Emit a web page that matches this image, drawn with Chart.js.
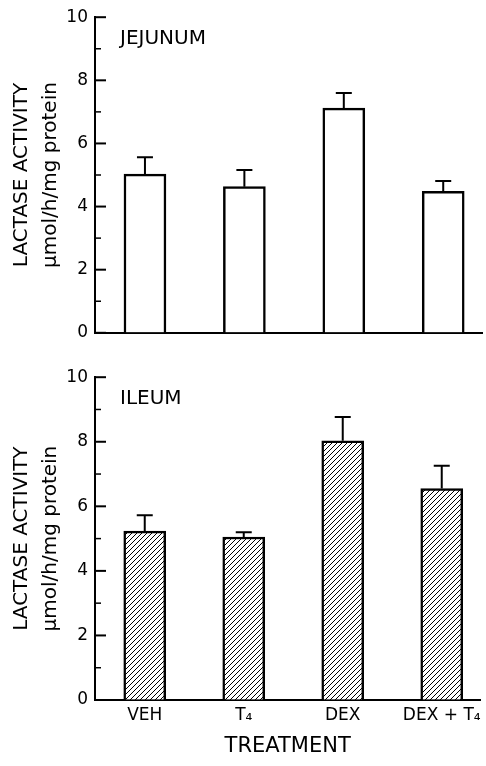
<!DOCTYPE html>
<html>
<head>
<meta charset="utf-8">
<script src="https://cdn.jsdelivr.net/npm/chart.js@4.4.1/dist/chart.umd.min.js"></script>
<style>
  body { margin: 0; background: #fff; }
  #wrap { position: relative; width: 486px; height: 766px; }
  canvas { position: absolute; left: 0; }
</style>
</head>
<body>
<div id="wrap">
  <canvas id="jejunum" width="486" height="350" style="top:0"></canvas>
  <canvas id="ileum" width="486" height="406" style="top:360px"></canvas>
</div>
<script>
// data
const treatments = ['VEH', 'T₄', 'DEX', 'DEX + T₄'];
const jejunumValues = [5.03, 4.63, 7.12, 4.48];
const jejunumErrors = [0.53, 0.53, 0.48, 0.33];
const ileumValues = [5.23, 5.05, 8.03, 6.55];
const ileumErrors = [0.49, 0.15, 0.74, 0.71];
const yTicks = [0, 2, 4, 6, 8, 10];

const FONT = 'DejaVu Sans, sans-serif';

// diagonal hatch for the ileum bars
function makeHatch() {
    const c = document.createElement('canvas');
    c.width = 5;
    c.height = 5;
    const g = c.getContext('2d');
    g.fillStyle = '#fff';
    g.fillRect(0, 0, 5, 5);
    g.strokeStyle = '#000';
    g.lineWidth = 1;
    g.beginPath();
    g.moveTo(0, 5); g.lineTo(5, 0);
    g.moveTo(-1, 1); g.lineTo(1, -1);
    g.moveTo(4, 6); g.lineTo(6, 4);
    g.stroke();
    return g.createPattern(c, 'repeat');
}

// upper error whiskers
const errorBars = {
    id: 'errorBars',
    afterDatasetsDraw(chart, args, opts) {
        const ctx = chart.ctx;
        const y = chart.scales.y;
        const meta = chart.getDatasetMeta(0);
        const vals = chart.data.datasets[0].data;
        ctx.save();
        ctx.strokeStyle = '#000';
        ctx.lineWidth = 2;
        meta.data.forEach((bar, i) => {
            const v = vals[i].y;
            const top = y.getPixelForValue(v);
            const end = y.getPixelForValue(v + opts.errors[i]);
            ctx.beginPath();
            ctx.moveTo(bar.x, top);
            ctx.lineTo(bar.x, end);
            ctx.moveTo(bar.x - 8, end);
            ctx.lineTo(bar.x + 8, end);
            ctx.stroke();
        });
        ctx.restore();
    }
};

// inward tick marks on the y axis, plus panel name
const innerTicks = {
    id: 'innerTicks',
    afterDraw(chart, args, opts) {
        const ctx = chart.ctx;
        const y = chart.scales.y;
        const left = chart.chartArea.left;
        ctx.save();
        ctx.strokeStyle = '#000';
        for (let v = 0; v <= 10; v++) {
            const py = y.getPixelForValue(v);
            ctx.lineWidth = v % 2 === 0 ? 2 : 1.5;
            ctx.beginPath();
            ctx.moveTo(left, py);
            ctx.lineTo(left + (v % 2 === 0 ? 11 : 6), py);
            ctx.stroke();
        }
        ctx.fillStyle = '#000';
        ctx.font = '20px ' + FONT;
        ctx.textBaseline = 'middle';
        ctx.fillText(opts.label, left + 25, 39);
        ctx.restore();
    }
};

function buildChart(id, values, errors, fill, label, showX) {
    const xScale = {
        type: 'linear',
        offset: false,
        min: -0.5025,
        max: 3.39,
        grid: { drawOnChartArea: false, drawTicks: false },
        border: { color: '#000', width: 2 },
        afterBuildTicks: s => { s.ticks = treatments.map((_, i) => ({ value: i })); },
        afterFit: s => { s.height = showX ? 66 : 13; },
        ticks: {
            display: showX,
            color: '#000',
            padding: 5,
            maxRotation: 0,
            font: { family: FONT, size: 17 },
            callback: v => treatments[v]
        },
        title: {
            display: showX,
            text: 'TREATMENT',
            color: '#000',
            padding: { top: 0, bottom: 7 },
            font: { family: FONT, size: 21 }
        }
    };

    return new Chart(document.getElementById(id), {
        type: 'bar',
        data: {
            datasets: [{
                data: values.map((v, i) => ({ x: i, y: v })),
                backgroundColor: fill,
                borderColor: '#000',
                borderWidth: 2.5,
                barThickness: 42
            }]
        },
        options: {
            responsive: false,
            animation: false,
            layout: { padding: { top: 15, right: 4, left: 0, bottom: 0 } },
            plugins: {
                legend: { display: false },
                tooltip: { enabled: false },
                errorBars: { errors: errors },
                innerTicks: { label: label }
            },
            scales: {
                x: xScale,
                y: {
                    min: 0,
                    max: 10,
                    grid: { drawOnChartArea: false, drawTicks: false },
                    border: { color: '#000', width: 2 },
                    afterBuildTicks: s => { s.ticks = yTicks.map(v => ({ value: v })); },
                    afterFit: s => { s.width = 95; },
                    ticks: {
                        color: '#000',
                        padding: 7,
                        font: { family: FONT, size: 17 }
                    },
                    title: {
                        display: true,
                        text: ['LACTASE ACTIVITY', 'µmol/h/mg protein'],
                        color: '#000',
                        padding: { top: 7, bottom: 0 },
                        font: { family: FONT, size: 20, lineHeight: 1.45 }
                    }
                }
            }
        },
        plugins: [errorBars, innerTicks]
    });
}

buildChart('jejunum', jejunumValues, jejunumErrors, '#fff', 'JEJUNUM', false);
buildChart('ileum', ileumValues, ileumErrors, makeHatch(), 'ILEUM', true);
</script>
</body>
</html>
